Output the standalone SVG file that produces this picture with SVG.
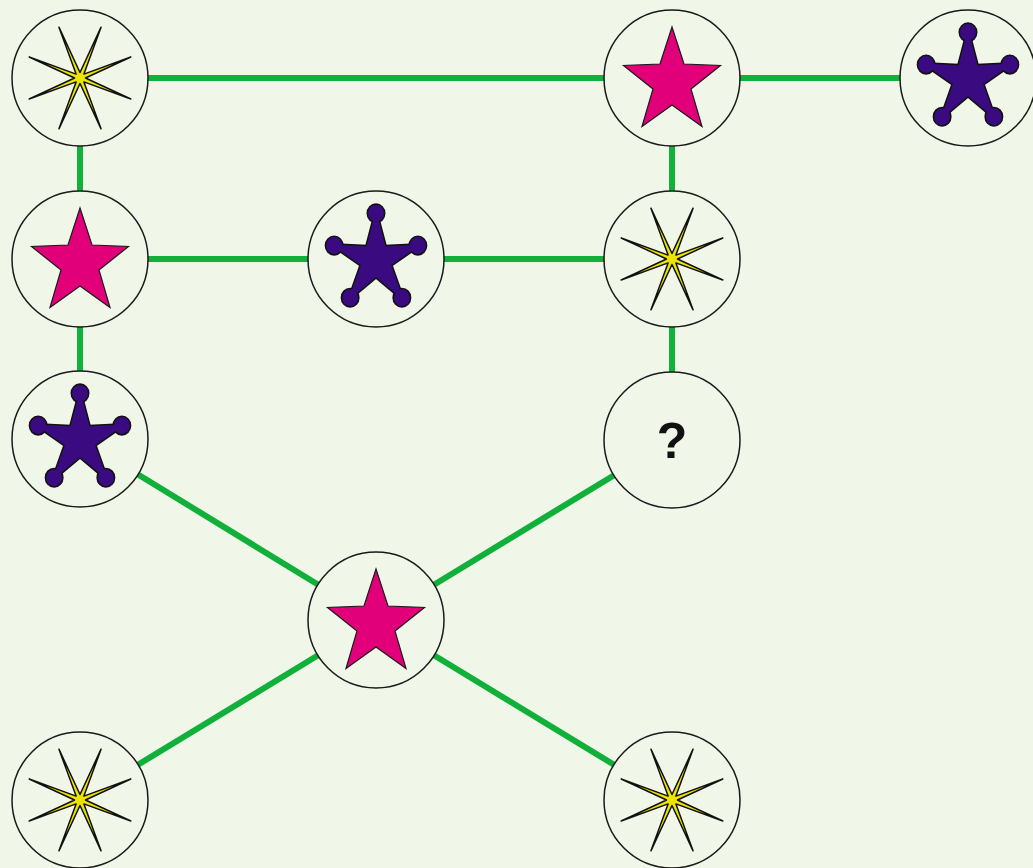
<svg xmlns="http://www.w3.org/2000/svg" width="1033" height="868" viewBox="0 0 1033 868">
  <style>
    .edge { stroke: #10b03a; stroke-width: 6; fill: none; }
    .ring { fill: #f0f6e8; stroke: #1a1a1a; stroke-width: 1.5; }
    .pink { fill: #e2007a; stroke: #1a1a1a; stroke-width: 1.2; stroke-linejoin: miter; }
    .spark { fill: #ece400; stroke: #111; stroke-width: 1.5; stroke-linejoin: round; }
    .pinout { fill: #111; stroke: #111; stroke-width: 3; stroke-linejoin: round; }
    .pinfill { fill: #3a0a80; }
    .q { font-family: "Liberation Sans", Arial, sans-serif; font-weight: bold; font-size: 50px; fill: #111; text-anchor: middle; }
  </style>
  <defs>
    <polygon id="starShape" points="0,-51 12,-14 48.5,-12.5 19,11 30,48.5 0,27 -30,48.5 -19,11 -48.5,-12.5 -12,-14"/>
    <polygon id="sparkShape" points="0,-5.5 21.05,-50.81 3.9,-3.9 50.81,-21.05 5.5,0 50.81,21.05 3.9,3.9 21.05,50.81 0,5.5 -21.05,50.81 -3.9,3.9 -50.81,21.05 -5.5,0 -50.81,-21.05 -3.9,-3.9 -21.05,-50.81"/>
    <g id="pinShape" transform="translate(0,1) scale(1,1.06)">
      <polygon points="0,-47 9.4,-12.94 44.7,-14.52 15.22,4.94 27.63,38.02 0,16 -27.63,38.02 -15.22,4.94 -44.7,-14.52 -9.4,-12.94"/>
      <circle cx="0" cy="-44" r="8"/>
      <circle cx="41.85" cy="-13.6" r="8"/>
      <circle cx="25.86" cy="35.6" r="8"/>
      <circle cx="-25.86" cy="35.6" r="8"/>
      <circle cx="-41.85" cy="-13.6" r="8"/>
    </g>
    <g id="pin">
      <use href="#pinShape" class="pinout"/>
      <use href="#pinShape" class="pinfill"/>
    </g>
  </defs>
  <rect width="1033" height="868" fill="#f0f6e8"/>
  <g id="connectors">
    <line class="edge" x1="80" y1="78" x2="672" y2="78"/>
    <line class="edge" x1="672" y1="78" x2="968" y2="78"/>
    <line class="edge" x1="80" y1="78" x2="80" y2="259"/>
    <line class="edge" x1="80" y1="259" x2="376" y2="259"/>
    <line class="edge" x1="376" y1="259" x2="672" y2="259"/>
    <line class="edge" x1="672" y1="78" x2="672" y2="259"/>
    <line class="edge" x1="672" y1="259" x2="672" y2="440"/>
    <line class="edge" x1="80" y1="259" x2="80" y2="439"/>
    <line class="edge" x1="80" y1="439" x2="376" y2="620"/>
    <line class="edge" x1="672" y1="440" x2="376" y2="620"/>
    <line class="edge" x1="376" y1="620" x2="80" y2="800"/>
    <line class="edge" x1="376" y1="620" x2="672" y2="800"/>
  </g>
  <g id="nodeA" transform="translate(80,78)">
    <circle class="ring" r="68"/>
    <use href="#sparkShape" class="spark"/>
  </g>
  <g id="nodeB" transform="translate(672,78)">
    <circle class="ring" r="68"/>
    <use href="#starShape" class="pink"/>
  </g>
  <g id="nodeC" transform="translate(968,78)">
    <circle class="ring" r="68"/>
    <use href="#pin"/>
  </g>
  <g id="nodeD" transform="translate(80,259)">
    <circle class="ring" r="68"/>
    <use href="#starShape" class="pink"/>
  </g>
  <g id="nodeE" transform="translate(376,259)">
    <circle class="ring" r="68"/>
    <use href="#pin"/>
  </g>
  <g id="nodeF" transform="translate(672,259)">
    <circle class="ring" r="68"/>
    <use href="#sparkShape" class="spark"/>
  </g>
  <g id="nodeG" transform="translate(80,439)">
    <circle class="ring" r="68"/>
    <use href="#pin"/>
  </g>
  <g id="nodeH" transform="translate(672,440)">
    <circle class="ring" r="68"/>
    <text class="q" x="0" y="18">?</text>
  </g>
  <g id="nodeI" transform="translate(376,620)">
    <circle class="ring" r="68"/>
    <use href="#starShape" class="pink"/>
  </g>
  <g id="nodeJ" transform="translate(80,800)">
    <circle class="ring" r="68"/>
    <use href="#sparkShape" class="spark"/>
  </g>
  <g id="nodeK" transform="translate(672,800)">
    <circle class="ring" r="68"/>
    <use href="#sparkShape" class="spark"/>
  </g>
</svg>
